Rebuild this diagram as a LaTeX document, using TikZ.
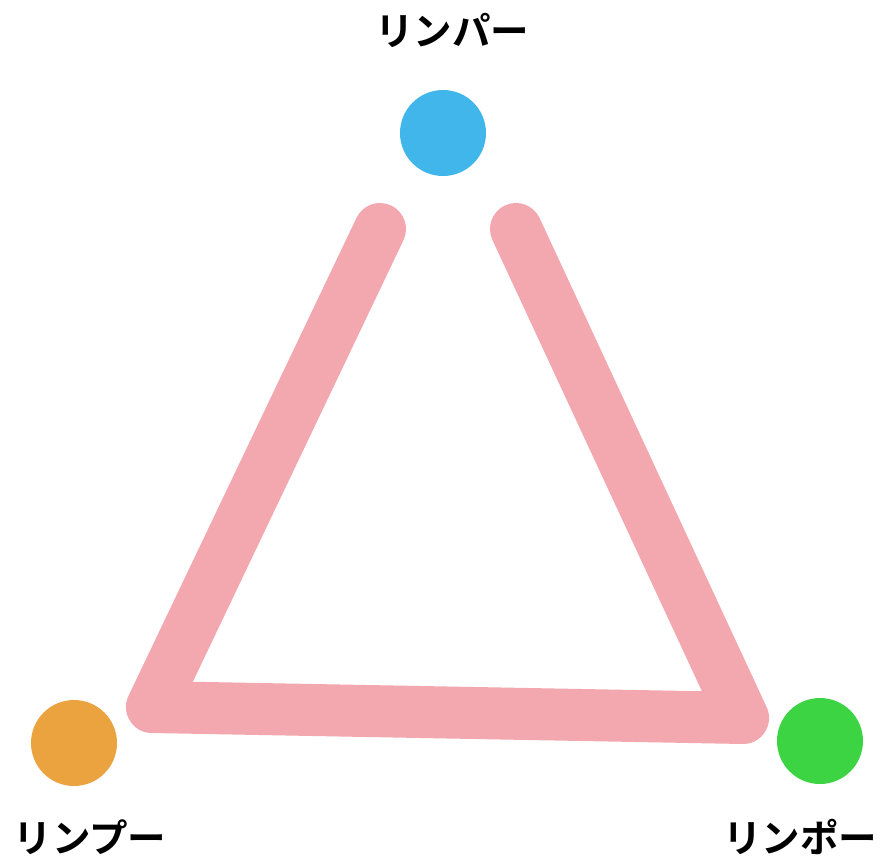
\documentclass[tikz,border=0pt]{standalone}
\usepackage{fontspec}
\usepackage{xcolor}
\usepackage{tikz}
\newfontfamily\jpfont{Noto Sans CJK JP}[BoldFont={Noto Sans CJK JP Bold}]
\definecolor{lineink}{HTML}{F3A8B0}
\definecolor{dotblue}{HTML}{41B6EA}
\definecolor{dotorange}{HTML}{EBA33F}
\definecolor{dotgreen}{HTML}{3DD444}
\begin{document}
\begin{tikzpicture}[x=1pt, y=-1pt, every node/.style={font=\jpfont\bfseries\fontsize{38.5}{42}\selectfont}]
  \useasboundingbox (0,0) rectangle (884,860);
  \fill[white] (0,0) rectangle (884,860);
  % stroke
  \draw[lineink, line width=52pt, line cap=round, line join=round]
    (380,229) -- (152,707) -- (743,718) -- (516,229);
  % dots
  \node[circle, fill=dotblue, minimum size=86pt, inner sep=0pt] (top) at (443,133) {};
  \node[circle, fill=dotorange, minimum size=86pt, inner sep=0pt] (left) at (74,743) {};
  \node[circle, fill=dotgreen, minimum size=86pt, inner sep=0pt] (right) at (820,741) {};
  % labels
  \node (toplbl) at (452,30) {リンパー};
  \node (leftlbl) at (90,837) {リンプー};
  \node (rightlbl) at (800,837) {リンポー};
\end{tikzpicture}
\end{document}
